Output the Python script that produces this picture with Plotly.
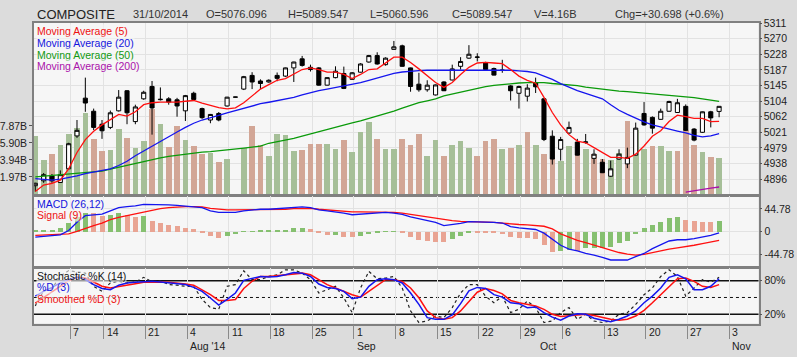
import plotly.graph_objects as go

W, H = 797, 357
FONT = "Liberation Sans, Arial, sans-serif"

# ---------------- data (trading-day index 0 = 1 Jul 2014 ... 82 = 31 Oct 2014) ----------------
opens = [4878.6, 4891.6, 4904.5, 4887.2, 4923.5, 5010.9, 5111.3, 5076.5, 5042.0, 5033.5,
         5077.6, 5131.0, 5049.0, 5109.5, 5142.4, 5107.2, 5109.5, 5106.9, 5077.6, 5124.3,
         5083.5, 5053.2, 5070.6, 5090.5, 5113.9, 5135.4, 5171.7, 5156.9, 5154.3, 5171.7,
         5169.9, 5191.7, 5215.8, 5193.3, 5191.7, 5145.8, 5165.8, 5176.9, 5161.3, 5180.3,
         5207.3, 5224.4, 5200.3, 5240.9, 5250.3, 5191.7, 5148.4, 5133.6, 5119.8, 5154.3,
         5159.5, 5195.9, 5217.6, 5219.7, 5204.7, 5189.9, 5186.0, 5143.9, 5124.3, 5116.5,
         5152.8, 5109.5, 5010.1, 4975.4, 5018.7, 4994.5, 4994.0, 4951.3, 4940.9, 4903.8,
         4949.4, 4936.5, 4959.8, 5070.6, 5060.2, 5055.0, 5076.5, 5073.2, 5089.5, 5029.1,
         5020.5, 5075.0, 5076.096]
highs = [4886.4, 4912.3, 4909.7, 4919.3, 4992.7, 5053.2, 5165.8, 5083.5, 5053.2, 5078.3,
         5132.8, 5132.8, 5093.9, 5131.0, 5156.9, 5139.8, 5113.9, 5112.1, 5119.8, 5128.4,
         5086.1, 5069.3, 5074.4, 5114.7, 5114.7, 5170.4, 5180.3, 5161.3, 5161.3, 5179.5,
         5192.5, 5208.0, 5223.6, 5200.3, 5193.8, 5166.6, 5195.9, 5195.1, 5180.8, 5204.2,
         5226.2, 5233.2, 5219.7, 5263.3, 5253.4, 5192.5, 5178.7, 5158.8, 5147.5, 5156.2,
         5200.3, 5220.2, 5252.1, 5230.6, 5208.0, 5192.5, 5213.2, 5145.8, 5144.5, 5148.4,
         5165.8, 5110.8, 5025.7, 5008.3, 5049.0, 5003.1, 5016.1, 4975.4, 4949.4, 4945.3,
         4975.4, 4979.8, 5046.4, 5100.9, 5062.8, 5083.5, 5104.3, 5109.5, 5094.7, 5031.6,
         5075.7, 5077.6, 5089.547]
lows = [4863.0, 4886.4, 4886.4, 4886.4, 4922.7, 5005.7, 5075.0, 5026.5, 5003.1, 5029.1,
        5075.7, 5042.0, 5042.0, 5106.9, 5014.3, 5105.1, 5093.9, 5062.0, 5050.6, 5104.3,
        5056.3, 5044.6, 5049.8, 5088.7, 5113.4, 5132.8, 5135.4, 5135.4, 5152.3, 5156.2,
        5167.8, 5154.3, 5195.1, 5182.1, 5144.5, 5145.0, 5163.9, 5135.4, 5160.0, 5179.5,
        5205.5, 5200.3, 5197.7, 5240.4, 5195.1, 5128.4, 5128.4, 5128.4, 5118.5, 5130.2,
        5158.8, 5187.3, 5215.8, 5208.8, 5184.7, 5171.7, 5178.7, 5105.1, 5083.5, 5102.5,
        5125.0, 4997.2, 4934.9, 4945.3, 5016.1, 4959.0, 4990.2, 4936.5, 4912.3, 4902.0,
        4947.3, 4925.3, 4959.0, 5038.1, 5016.9, 5053.7, 5075.7, 5071.9, 5023.9, 4996.6,
        5018.7, 5033.5, 5060.596]
closes = [4885.1, 4907.9, 4891.6, 4907.9, 4990.2, 5025.7, 5098.3, 5033.5, 5024.6, 5072.4,
          5113.9, 5072.4, 5087.9, 5126.9, 5085.3, 5108.2, 5100.9, 5090.5, 5118.0, 5107.7,
          5059.4, 5068.0, 5053.2, 5113.9, 5114.2, 5168.4, 5154.3, 5150.2, 5158.8, 5163.9,
          5191.7, 5207.3, 5198.4, 5187.3, 5145.8, 5165.8, 5182.9, 5137.2, 5178.7, 5202.1,
          5224.4, 5202.1, 5217.6, 5247.7, 5195.9, 5142.4, 5133.6, 5145.8, 5146.5, 5131.0,
          5189.1, 5208.8, 5228.0, 5220.5, 5187.3, 5172.5, 5185.2, 5131.0, 5142.4, 5138.0,
          5141.4, 5001.3, 4949.4, 5001.3, 5033.5, 4959.8, 4994.8, 4962.4, 4913.1, 4923.5,
          4962.4, 4953.8, 5031.6, 5040.2, 5031.6, 5076.5, 5102.5, 5099.1, 5025.7, 4999.8,
          5075.0, 5058.849, 5089.547]
volume_b = [6.70, 3.92, 4.68, 5.71, 6.96, 7.61, 9.35, 6.31, 4.95, 5.06,
            7.53, 6.50, 5.37, 6.13, 9.88, 8.10, 5.45, 7.90, 6.20, 5.51,
            4.68, 4.72, 3.66, 4.00, 0.0, 5.33, 7.90, 5.71, 4.38, 6.88,
            6.77, 4.95, 5.06, 5.82, 5.74, 5.74, 5.17, 6.20, 4.80, 7.22,
            8.36, 6.31, 5.25, 5.25, 6.31, 5.71, 6.88, 4.38, 6.20, 4.38,
            5.71, 6.08, 5.37, 4.38, 6.08, 6.31, 5.17, 5.33, 5.63, 7.22,
            5.68, 4.60, 4.99, 3.81, 5.50, 5.60, 5.25, 4.60, 4.10, 3.90,
            4.70, 8.40, 7.40, 5.20, 5.60, 5.60, 5.00, 5.00, 7.45, 5.70,
            4.80, 4.30, 4.16]
ma5 = [4863.0, 4880.4, 4884.6, 4893.4, 4923.5, 4966.8, 5001.3, 5023.1, 5040.2, 5053.2,
       5068.0, 5063.6, 5075.0, 5093.9, 5099.1, 5100.9, 5100.9, 5100.9, 5103.0, 5105.1,
       5097.8, 5092.1, 5086.1, 5082.8, 5085.6, 5099.1, 5117.3, 5135.4, 5147.1, 5158.8,
       5163.2, 5174.3, 5187.3, 5191.7, 5187.3, 5180.3, 5180.3, 5174.3, 5163.2, 5174.3,
       5187.3, 5189.1, 5204.1, 5220.2, 5220.2, 5206.2, 5189.1, 5171.7, 5152.8, 5139.8,
       5152.8, 5174.3, 5193.3, 5204.7, 5206.2, 5204.7, 5202.8, 5187.3, 5169.9, 5158.8,
       5151.0, 5113.4, 5073.2, 5040.2, 5014.3, 4997.2, 4992.7, 4979.8, 4966.8, 4953.8,
       4953.8, 4951.2, 4962.4, 4984.2, 5010.1, 5024.6, 5049.0, 5066.2, 5062.0, 5057.6,
       5057.6, 5049.0, 5049.8]
ma20 = [4897.5, 4894.9, 4893.4, 4896.0, 4900.1, 4904.5, 4910.5, 4914.9, 4919.3, 4923.5,
        4932.3, 4943.5, 4958.2, 4971.2, 4984.2, 4997.2, 5010.1, 5021.3, 5033.5, 5044.6,
        5053.2, 5060.2, 5065.4, 5071.9, 5078.3, 5084.8, 5091.3, 5096.5, 5100.4, 5104.3,
        5108.2, 5113.4, 5119.8, 5126.3, 5131.5, 5135.4, 5139.3, 5143.2, 5147.1, 5152.3,
        5158.8, 5165.2, 5171.7, 5176.9, 5180.8, 5183.4, 5184.7, 5185.5, 5185.5, 5185.5,
        5185.5, 5186.0, 5186.5, 5187.3, 5187.3, 5187.3, 5186.5, 5185.5, 5183.9, 5182.1,
        5178.2, 5170.4, 5161.3, 5149.7, 5139.8, 5131.5, 5124.3, 5117.3, 5109.5, 5093.9,
        5079.1, 5068.0, 5057.6, 5048.5, 5040.2, 5034.2, 5029.1, 5023.9, 5018.7, 5012.2,
        5008.3, 5010.9, 5016.9]
ma50 = [4902.0, 4903.8, 4905.8, 4907.9, 4909.7, 4911.0, 4912.3, 4914.9, 4917.5, 4922.7,
        4927.9, 4933.1, 4938.3, 4943.5, 4947.9, 4952.5, 4956.4, 4959.8, 4962.9, 4965.5,
        4968.1, 4969.4, 4971.2, 4973.3, 4975.9, 4978.5, 4981.1, 4983.7, 4991.4, 4995.3,
        4999.8, 5004.4, 5010.1, 5016.1, 5022.6, 5029.1, 5035.5, 5040.7, 5045.9, 5051.1,
        5057.6, 5064.1, 5069.3, 5077.0, 5084.8, 5092.6, 5099.1, 5104.3, 5109.5, 5117.3,
        5122.4, 5127.6, 5132.8, 5138.0, 5141.9, 5145.0, 5147.6, 5149.7, 5151.5, 5152.3,
        5152.8, 5152.8, 5150.2, 5148.9, 5147.1, 5144.5, 5140.6, 5138.0, 5135.4, 5132.0,
        5130.2, 5128.9, 5126.9, 5125.0, 5122.4, 5121.1, 5119.8, 5118.0, 5115.4, 5112.8,
        5109.5, 5106.1, 5102.5]
ma200 = [None] * 78 + [4861.7, 4865.6, 4869.0, 4872.1, 4875.2]

macd = [-11.1, -9.2, -7.8, -6.6, 1.9, 18.1, 31.2, 32.3, 34.3, 40.9,
        47.3, 49.3, 50.6, 53.7, 53.7, 53.7, 52.6, 51.8, 50.6, 49.3,
        47.3, 40.9, 37.6, 37.6, 37.6, 40.9, 42.8, 44.0, 44.0, 45.4,
        45.9, 47.3, 48.7, 47.3, 42.8, 40.9, 38.9, 36.2, 33.1, 34.3,
        36.2, 37.6, 37.6, 36.2, 33.7, 28.8, 24.9, 21.4, 18.1, 11.7,
        13.6, 16.2, 19.5, 19.5, 19.5, 18.1, 16.7, 9.7, 7.0, 5.1,
        3.9, -3.3, -14.4, -27.3, -35.0, -38.4, -43.6, -46.7, -51.4, -56.5,
        -56.5, -56.5, -50.0, -43.6, -33.9, -26.1, -18.9, -16.4, -16.4, -14.4,
        -11.1, -7.8, -2.7]
signal = [-7.8, -7.2, -6.6, -6.6, -4.7, 0.0, 6.4, 11.7, 16.7, 23.4,
          27.8, 31.2, 34.3, 38.9, 42.1, 45.4, 47.3, 48.7, 49.3, 49.3,
          48.7, 45.9, 44.0, 42.8, 42.8, 42.8, 44.0, 44.0, 44.0, 44.0,
          44.0, 45.4, 45.9, 45.9, 44.0, 42.8, 40.9, 39.5, 38.9, 38.9,
          38.9, 38.9, 38.9, 37.6, 36.2, 33.7, 31.2, 28.4, 25.9, 23.4,
          21.4, 20.1, 19.7, 19.5, 18.9, 18.1, 16.5, 14.8, 13.8, 12.9,
          11.7, 10.3, 5.1, -4.7, -11.1, -17.5, -22.2, -27.3, -31.9, -37.0,
          -41.7, -44.8, -46.7, -45.6, -41.7, -38.9, -35.0, -32.5, -29.2, -27.3,
          -24.1, -20.8, -17.5]
hist = [2.6, 3.9, 3.9, 6.5, 16.9, 29.9, 37.6, 36.3, 31.5, 33.0,
        37.0, 32.5, 29.9, 30.5, 21.4, 16.9, 13.6, 11.7, 7.8, 5.2,
        -1.9, -7.8, -12.3, -7.8, -4.5, 0.6, 1.3, 1.9, 2.6, 3.2,
        3.9, 6.5, 6.8, 5.2, -2.6, -6.5, -5.8, -9.7, -11.0, -7.8,
        -4.5, -1.3, 0.6, 0.8, -2.6, -11.0, -15.6, -17.5, -19.5, -20.8,
        -14.3, -7.8, -1.9, -2.2, -2.6, -3.2, -4.0, -11.0, -12.3, -13.0,
        -13.5, -27.3, -40.2, -38.3, -37.0, -38.3, -33.0, -32.5, -32.0, -30.0,
        -22.7, -17.5, -4.5, 6.5, 13.0, 19.5, 27.9, 29.9, 23.4, 20.5,
        19.8, 19.3, 21.4]

stoch_k = [35, 62, 66, 88, 98, 96, 93.5, 70, 61, 76,
           79, 76, 77.6, 86, 77.6, 80, 73, 72, 70, 70,
           46.5, 32, 29, 70, 73, 97.6, 81.8, 81.8, 87.6, 90.6,
           99.4, 99.4, 93.5, 81.8, 58, 64, 70, 49.4, 23, 67,
           96.5, 83.5, 84.7, 87.6, 67, 26, 5.3, 8, 17, 14,
           32, 58, 73, 73, 52, 40.6, 52, 23, 29, 43.5,
           32, 5.3, 8, 23, 32, 11, 20, 8, 5.3, 8,
           20, 23, 37.6, 55, 67, 87.6, 99.4, 87.6, 52.4, 67,
           81.8, 77.6, 86]
stoch_d = [52.4, 61, 68, 76, 82, 86, 82, 73, 66, 64,
           72, 76, 77, 77.6, 79, 77.6, 76, 74.7, 73, 68,
           61, 49, 36.5, 46.5, 58, 80.6, 83.5, 87.6, 86.5, 87.6,
           90.6, 94.7, 93.5, 87.6, 74, 68, 66, 61, 48, 50.6,
           70, 81.8, 83.5, 81.8, 76, 58, 37.6, 14, 11, 11,
           19, 39, 62, 68, 66, 55, 50.6, 40.6, 39, 31.8,
           33, 23, 15, 9.4, 17, 21, 20, 13, 9.4, 6.5,
           11, 17, 26, 40.6, 52.4, 67, 86, 90.6, 83.5, 64,
           64, 70, 83.5]
stoch_sd = [40, 50, 60, 70, 80, 86, 84.7, 77.6, 70, 67,
            70, 73, 74.7, 77, 77.6, 77.6, 77, 76, 74, 72,
            64, 55, 44.7, 44.7, 46.5, 66, 79, 87.6, 87.6, 88.8,
            90.6, 91.8, 93.5, 90.6, 81.8, 73, 67, 61, 55, 50.6,
            61, 73, 81.8, 81.8, 78.8, 67, 49.4, 26, 14, 11,
            14, 26, 43.5, 59.4, 66, 62.4, 56.5, 44.7, 40.6, 37.6,
            34.7, 28.8, 20, 16, 17, 19, 20, 18, 15, 11,
            9.4, 11, 17, 27, 40.6, 55, 70, 83.5, 84.7, 78.8,
            70, 68, 73]

week_tick_idx = [4, 8, 13, 18, 23, 28, 33, 38, 43, 48, 53, 58, 63, 68, 73, 78, 83]
week_tick_text = ["7", "14", "21", "4", "11", "18", "25", "1", "8", "15", "22", "29",
                  "6", "13", "20", "27", "3"]
month_tick_idx = [18, 38, 60, 83]
month_tick_text = ["Aug '14", "Sep", "Oct", "Nov"]
price_tick_vals = [4896, 4937.5, 4979, 5020.5, 5062, 5103.5, 5145, 5186.5, 5228, 5269.5, 5311]
price_tick_text = ["4896", "4938", "4979", "5021", "5062", "5104", "5145", "5187", "5228", "5270", "5311"]
vol_tick_vals = [1.967, 3.934, 5.901, 7.868]
vol_tick_text = ["1.97B", "3.94B", "5.90B", "7.87B"]
macd_tick_vals = [-44.78, 0, 44.78]
macd_tick_text = ["-44.78", "0", "44.78"]
stoch_tick_vals = [20, 80]
stoch_tick_text = ["20%", "80%"]

header = [("COMPOSITE", 34), ("31/10/2014", 130.5), ("O=5076.096", 203), ("H=5089.547", 285.5),
          ("L=5060.596", 367.5), ("C=5089.547", 450), ("V=4.16B", 531.5), ("Chg=+30.698 (+0.6%)", 613)]

# ---------------- styling ----------------
PAPER = "#dcdcdc"
PLOT = "#f6f6f6"
GRID = "#e2e2e2"
BORDER = "#808080"
VOL_UP, VOL_DN = "#a6bf98", "#d2a696"
H_UP, H_DN = "#86c070", "#e9a493"
TICK_SHIFT = 0.2
XR = [-0.16, 86.73]

def px_x(p):
    return p / W

def px_y(p):
    return 1 - p / H

n = len(closes)
xs = list(range(n))
vol_colors = [VOL_UP if (i == 0 or closes[i] >= closes[i - 1]) else VOL_DN for i in range(n)]
hist_colors = [H_UP if (i == 0 or hist[i] >= hist[i - 1]) else H_DN for i in range(n)]
wk = [t + TICK_SHIFT for t in week_tick_idx]
mo = [t + TICK_SHIFT for t in month_tick_idx]

fig = go.Figure()
fig.add_trace(go.Bar(x=xs, y=volume_b, width=0.68, marker=dict(color=vol_colors, line=dict(width=0)),
                     xaxis="x", yaxis="y", hoverinfo="skip"))
fig.add_trace(go.Candlestick(x=xs, open=opens, high=highs, low=lows, close=closes,
                             increasing=dict(line=dict(color="black", width=1), fillcolor="white"),
                             decreasing=dict(line=dict(color="black", width=1), fillcolor="black"),
                             whiskerwidth=0, xaxis="x", yaxis="y2"))
for vals, col in [(ma50, "#0a9a0a"), (ma20, "#1515ee"), (ma5, "#ff1010"), (ma200, "#aa10aa")]:
    fig.add_trace(go.Scatter(x=xs, y=vals, mode="lines", line=dict(color=col, width=1.3),
                             xaxis="x", yaxis="y2", hoverinfo="skip"))

fig.add_trace(go.Bar(x=xs, y=hist, width=0.6, marker=dict(color=hist_colors, line=dict(width=0)),
                     xaxis="x2", yaxis="y3"))
fig.add_trace(go.Scatter(x=xs, y=signal, mode="lines", line=dict(color="#ff1010", width=1.3), xaxis="x2", yaxis="y3"))
fig.add_trace(go.Scatter(x=xs, y=macd, mode="lines", line=dict(color="#1515ee", width=1.3), xaxis="x2", yaxis="y3"))

fig.add_trace(go.Scatter(x=xs, y=stoch_k, mode="lines", line=dict(color="#222222", width=1.2, dash="dot"),
                         xaxis="x3", yaxis="y4"))
fig.add_trace(go.Scatter(x=xs, y=stoch_sd, mode="lines", line=dict(color="#ff1010", width=1.5), xaxis="x3", yaxis="y4"))
fig.add_trace(go.Scatter(x=xs, y=stoch_d, mode="lines", line=dict(color="#1515ee", width=1.5), xaxis="x3", yaxis="y4"))

xdom = [px_x(33), px_x(758.5)]
dom_main = [px_y(192), px_y(17.3)]
dom_macd = [px_y(265), px_y(193)]
dom_sto = [px_y(323), px_y(266)]

tickfont = dict(family=FONT, size=10.5, color="#222222")
common_x = dict(domain=xdom, range=XR, tickmode="array", tickvals=wk, showticklabels=False,
                showgrid=True, gridcolor=GRID, gridwidth=1, zeroline=False,
                showline=True, mirror=True, linecolor=BORDER, linewidth=1.5)

fig.update_layout(
    width=W, height=H, margin=dict(l=0, r=0, t=0, b=0), autosize=False,
    paper_bgcolor=PAPER, plot_bgcolor=PLOT, showlegend=False, bargap=0,
    xaxis=dict(**common_x, anchor="y", ticks="", rangeslider=dict(visible=False)),
    xaxis2=dict(**common_x, anchor="y3", ticks=""),
    xaxis3=dict(**common_x, anchor="y4", ticks="outside", ticklen=14, tickcolor="#8a8a8a", tickwidth=1),
    xaxis4=dict(domain=xdom, range=XR, overlaying="x3", anchor="y4", tickmode="array", tickvals=mo,
                showticklabels=False, ticks="outside", ticklen=28, tickcolor="#8a8a8a", tickwidth=1,
                showgrid=False, zeroline=False, showline=False),
    yaxis=dict(domain=dom_main, anchor="x", side="left", range=[-0.09, 19.77], tickmode="array",
               tickvals=vol_tick_vals, ticktext=vol_tick_text, ticks="outside", ticklen=3,
               tickcolor="#555555", tickfont=tickfont, showgrid=False, zeroline=False,
               showline=True, mirror=True, linecolor=BORDER, linewidth=1.5),
    yaxis2=dict(overlaying="y", anchor="x", side="right", range=[4854.5, 5311], tickmode="array",
                tickvals=price_tick_vals, ticktext=price_tick_text, ticks="outside", ticklen=2,
                tickcolor="#555555", tickfont=tickfont, showgrid=True, gridcolor=GRID, zeroline=False,
                showline=False),
    yaxis3=dict(domain=dom_macd, anchor="x2", side="right", range=[-69.5, 70.7], tickmode="array",
                tickvals=macd_tick_vals, ticktext=macd_tick_text, ticks="outside", ticklen=2,
                tickcolor="#555555", tickfont=tickfont, showgrid=True, gridcolor=GRID, zeroline=False,
                showline=True, mirror=True, linecolor=BORDER, linewidth=1.5),
    yaxis4=dict(domain=dom_sto, anchor="x3", side="right", range=[3.4, 103.5], tickmode="array",
                tickvals=stoch_tick_vals, ticktext=stoch_tick_text, ticks="outside", ticklen=2,
                tickcolor="#555555", tickfont=tickfont, showgrid=False, zeroline=False,
                showline=True, mirror=True, linecolor=BORDER, linewidth=1.5),
)

# stochastic reference levels
for lvl, dash, wdt in [(80, "solid", 1.5), (20, "solid", 1.5), (50, "dot", 1)]:
    fig.add_shape(type="line", xref="x3 domain", yref="y4", x0=0, x1=1, y0=lvl, y1=lvl,
                  line=dict(color="#111111", width=wdt, dash=dash), layer="below")

ann = []
# header
for i, (txt, xp) in enumerate(header):
    ann.append(dict(text=txt, x=px_x(xp), y=px_y(8.3), xref="paper", yref="paper", xanchor="left",
                    yanchor="middle", showarrow=False,
                    font=dict(family=FONT, size=13 if i == 0 else 11, color="#222222" if i == 0 else "#333333")))
# legends
LBG = "rgba(246,246,246,0.6)"
legend_items = [
    ("Moving Average (5)", "#ee1111", 25.5), ("Moving Average (20)", "#1515dd", 37.5),
    ("Moving Average (50)", "#119911", 49.5), ("Moving Average (200)", "#aa11aa", 61.5),
    ("MACD (26,12)", "#1515dd", 201.5), ("Signal (9)", "#ee1111", 213),
    ("Stochastic %K (14)", "#111111", 274.5), ("%D (3)", "#1515dd", 285.5), ("Smoothed %D (3)", "#ee1111", 297.5),
]
for txt, col, yp in legend_items:
    ann.append(dict(text=txt, x=px_x(35.5), y=px_y(yp), xref="paper", yref="paper", xanchor="left",
                    yanchor="middle", showarrow=False, bgcolor=LBG, borderpad=0,
                    font=dict(family=FONT, size=10.5, color=col)))
# bottom date labels
for t, lab in zip(wk, week_tick_text):
    ann.append(dict(text=lab, x=t, xref="x3", y=px_y(332), yref="paper", xanchor="left", yanchor="middle",
                    xshift=1, showarrow=False, font=dict(family=FONT, size=10.5, color="#222222")))
for t, lab in zip(mo, month_tick_text):
    ann.append(dict(text=lab, x=t, xref="x3", y=px_y(346), yref="paper", xanchor="left", yanchor="middle",
                    xshift=1, showarrow=False, font=dict(family=FONT, size=10.5, color="#222222")))
fig.update_layout(annotations=ann)

fig.write_html("out.html", config={"displayModeBar": False},
               post_script="document.body.style.margin='0px';document.body.style.overflow='hidden';")
